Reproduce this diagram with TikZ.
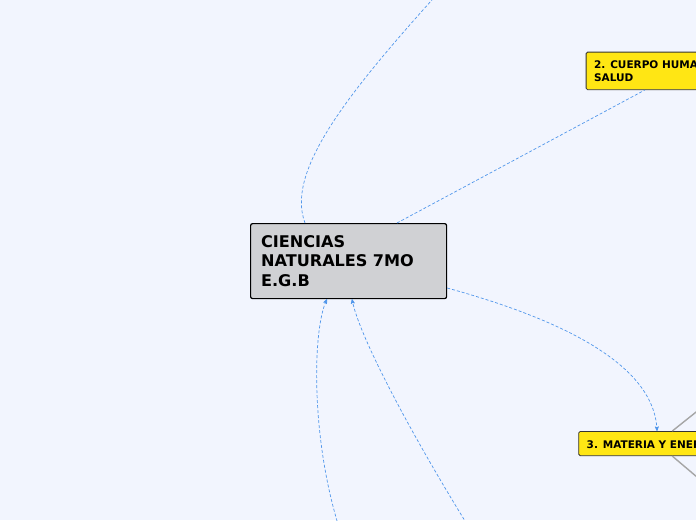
\documentclass[tikz,border=0pt]{standalone}
\usepackage{fontspec}
\usepackage{xcolor}
\usetikzlibrary{arrows,shapes}
\setmainfont{DejaVu Sans}
\definecolor{fondo}{RGB}{242,245,254}
\definecolor{gris}{RGB}{208,209,212}
\definecolor{amarillo}{RGB}{255,230,20}
\definecolor{enlace}{RGB}{80,150,235}

\begin{document}
\begin{tikzpicture}[x=1pt,y=-1pt,
        raiz/.style={draw=black, line width=1.2pt, fill=gris, rounded corners=2pt, anchor=north west,
            text width=175pt, minimum height=75pt, inner xsep=10.5pt, align=left,
            font=\fontsize{16.1}{19.4}\selectfont\bfseries},
        tema/.style={draw=black!80, line width=0.8pt, fill=amarillo, rounded corners=1.5pt, anchor=north west,
            inner xsep=8pt, align=left, font=\fontsize{10.5}{13.3}\selectfont\bfseries},
        enl/.style={draw=enlace, dashed, dash pattern=on 3pt off 2pt, line width=0.7pt},
        rama/.style={draw=black!35, line width=1.4pt}]
        \useasboundingbox (0,0) rectangle (696,520);
        \fill[fondo] (0,0) rectangle (696,520);
        \clip (0,0) rectangle (696,520);
        % nodos
        \node[raiz] (ciencias) at (250,223) {CIENCIAS\\NATURALES 7MO\\E.G.B};
        \node[tema, minimum height=37.6pt] (cuerpo) at (585.7,51.7) {2. CUERPO HUMANO Y\\SALUD};
        \node[tema, minimum height=24.3pt] (materia) at (578.3,431) {3. MATERIA Y ENERGÍA};
        % puntos fuera del cuadro
        \coordinate (arriba) at (450,-20);
        \coordinate (abajoA) at (345,545);
        \coordinate (abajoB) at (480,545);
        \coordinate (hijoA) at (730,385);
        \coordinate (hijoB) at (730,505);
        % enlaces
        \draw[enl] ([xshift=55pt]ciencias.north west) .. controls (285,170) and (350,90) .. (arriba);
        \draw[enl] ([xshift=147pt]ciencias.north west) -- ([xshift=59pt]cuerpo.south west);
        \draw[enl, -stealth'] ([yshift=-65pt]ciencias.north east) .. controls (600,330) and (655,380) .. ([xshift=78.7pt]materia.north west);
        \draw[enl, -stealth'] (abajoA) .. controls (310,450) and (312,330) .. ([xshift=77pt]ciencias.south west);
        \draw[enl, -stealth'] (abajoB) .. controls (420,450) and (360,340) .. ([xshift=102pt]ciencias.south west);
        \draw[rama] ([xshift=94pt]materia.north west) -- (hijoA);
        \draw[rama] ([xshift=94pt]materia.south west) -- (hijoB);
    \end{tikzpicture}
\end{document}
